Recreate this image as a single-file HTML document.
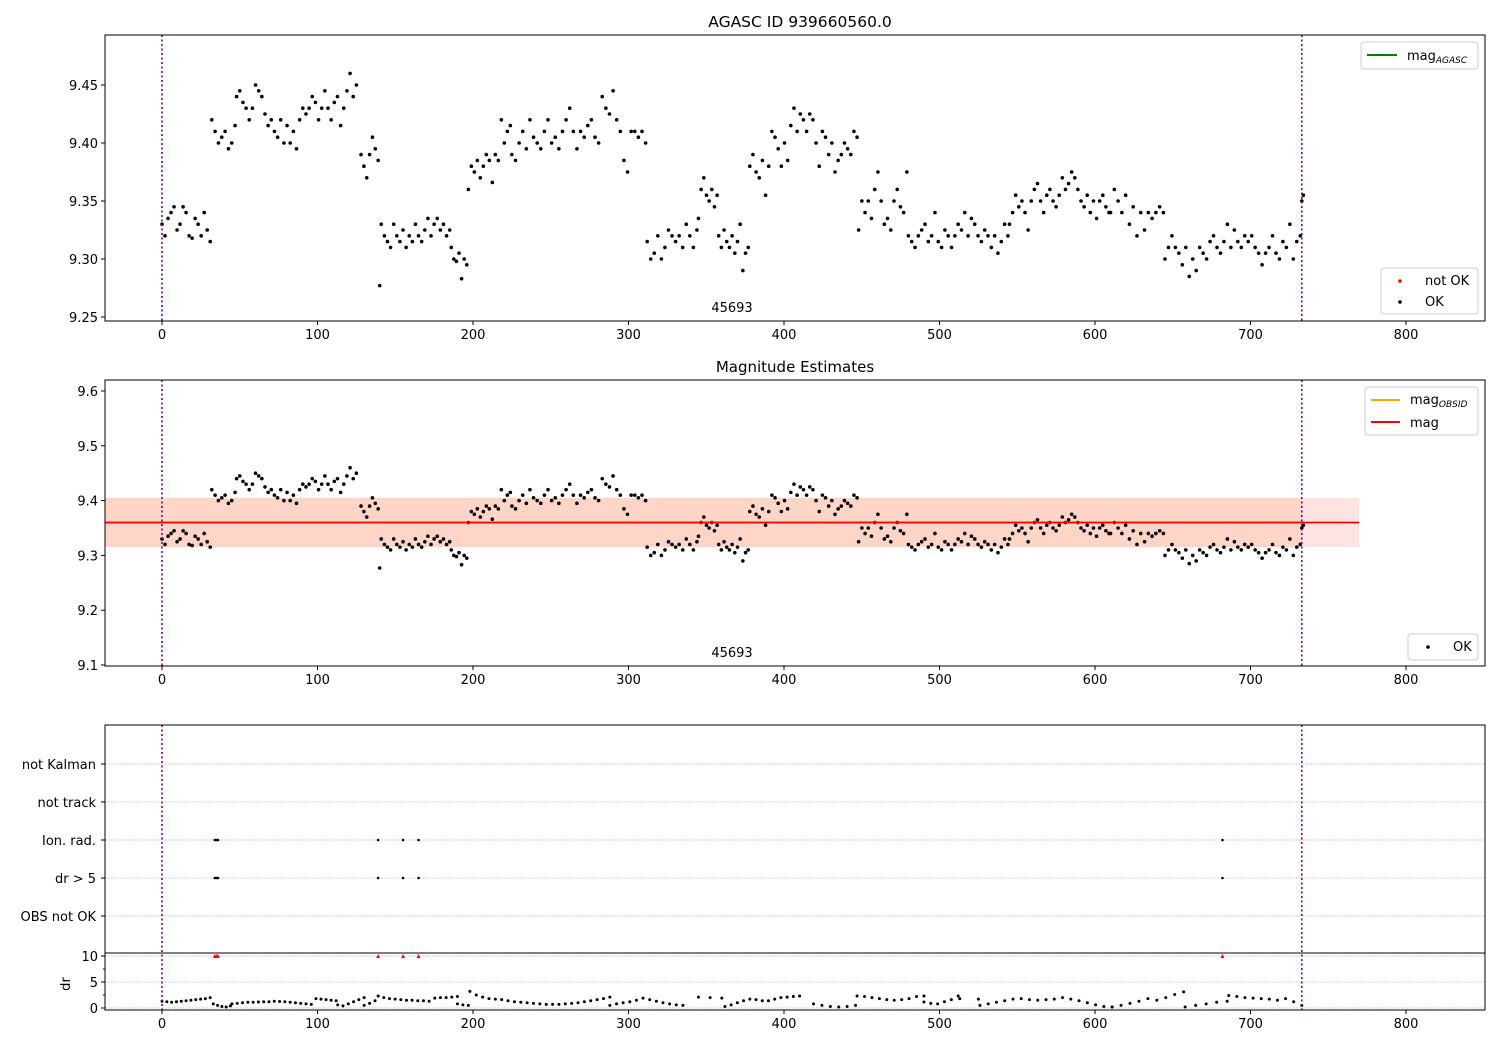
<!DOCTYPE html>
<html><head><meta charset="utf-8"><style>
body{margin:0;background:#fff}
svg{display:block;font-family:"DejaVu Sans","Liberation Sans",sans-serif}
</style></head><body>
<svg id="fig" width="1500" height="1050" viewBox="0 0 1500 1050" xmlns="http://www.w3.org/2000/svg">
<rect width="1500" height="1050" fill="#fff"/>
<g id="g"></g>
</svg>
<script>
// ---- data ----
const xTicks=[0,100,200,300,400,500,600,700,800];
const topYTicks=[9.25,9.30,9.35,9.40,9.45];
const midYTicks=[9.1,9.2,9.3,9.4,9.5,9.6];
const flagCats=["not Kalman","not track","Ion. rad.","dr > 5","OBS not OK"];
const drTicks=[0,5,10];
const flagTimes=[34,35,36,139,155,165,682];
const obsStart=0, obsStop=733;
const magAgasc=9.36, magBandLow=9.315, magBandHigh=9.405, magBandEnd=770;
const magSegStart=[0,32,48,128,140,141,186,197,225,312,345,358,378,448,480,545,610,645,733];
const magSegEnd=[31,47,125,139,140,185,196,224,311,344,357,377,447,479,544,609,644,732,734];
const magSegVals=[
[9.33,9.32,9.335,9.34,9.345,9.325,9.33,9.345,9.34,9.32,9.318,9.335,9.33,9.32,9.34,9.325,9.315],
[9.42,9.41,9.40,9.405,9.41,9.395,9.40,9.415],
[9.44,9.445,9.435,9.43,9.42,9.43,9.45,9.445,9.44,9.425,9.415,9.42,9.41,9.405,9.42,9.40,9.415,9.40,9.41,9.395,9.42,9.43,9.425,9.43,9.44,9.435,9.42,9.43,9.445,9.43,9.42,9.435,9.44,9.415,9.43,9.445,9.46,9.44,9.45],
[9.39,9.38,9.37,9.39,9.405,9.395,9.385],
[9.277],
[9.33,9.32,9.315,9.31,9.33,9.32,9.315,9.325,9.31,9.32,9.315,9.33,9.32,9.315,9.325,9.335,9.32,9.33,9.335,9.325,9.33,9.32,9.325],
[9.31,9.30,9.298,9.305,9.283,9.30,9.295],
[9.36,9.38,9.375,9.385,9.37,9.38,9.39,9.385,9.366,9.39,9.385,9.42,9.40,9.41,9.415],
[9.39,9.385,9.40,9.41,9.395,9.42,9.405,9.40,9.395,9.41,9.42,9.40,9.405,9.395,9.41,9.42,9.43,9.41,9.395,9.41,9.405,9.415,9.42,9.405,9.40,9.44,9.43,9.425,9.445,9.42,9.41,9.385,9.375,9.41,9.41,9.405,9.41,9.40],
[9.315,9.30,9.305,9.32,9.30,9.31,9.325,9.32,9.315,9.32,9.31,9.33,9.32,9.31,9.325],
[9.335,9.36,9.37,9.355,9.35,9.36,9.345,9.355],
[9.32,9.31,9.325,9.315,9.31,9.32,9.305,9.315,9.33,9.29,9.305,9.31],
[9.38,9.39,9.375,9.37,9.385,9.355,9.38,9.41,9.405,9.395,9.38,9.40,9.385,9.415,9.43,9.41,9.425,9.42,9.41,9.425,9.42,9.40,9.38,9.41,9.405,9.39,9.40,9.375,9.385,9.39,9.40,9.395,9.39,9.41,9.405],
[9.325,9.35,9.34,9.35,9.335,9.36,9.375,9.35,9.33,9.335,9.325,9.35,9.36,9.345,9.34,9.375],
[9.32,9.315,9.31,9.32,9.325,9.33,9.315,9.32,9.34,9.315,9.31,9.325,9.32,9.31,9.32,9.33,9.325,9.34,9.32,9.335,9.33,9.32,9.315,9.325,9.32,9.31,9.32,9.305,9.315,9.33,9.32],
[9.33,9.34,9.355,9.345,9.35,9.34,9.325,9.35,9.36,9.365,9.35,9.34,9.355,9.36,9.35,9.345,9.355,9.37,9.36,9.365,9.375,9.37,9.36,9.35,9.345,9.355,9.34,9.35,9.335,9.35,9.355,9.345,9.34],
[9.34,9.36,9.35,9.34,9.355,9.33,9.345,9.32,9.34,9.325,9.34,9.335,9.34,9.345,9.34],
[9.30,9.31,9.32,9.31,9.305,9.295,9.31,9.285,9.30,9.29,9.31,9.305,9.30,9.315,9.32,9.31,9.305,9.315,9.33,9.31,9.325,9.315,9.31,9.32,9.315,9.32,9.31,9.305,9.295,9.305,9.31,9.32,9.305,9.30,9.315,9.31,9.33,9.30,9.315,9.32],
[9.35,9.355]];
const drSegStart=[0,33,45,99,113,130,139,190,198,288,345,362,419,447,490,513,526,611,658,686];
const drSegEnd=[31,44,96,112,130,137,190,197,288,335,360,410,446,490,512,525,611,657,685,733];
const drSegVals=[
[1.3,1.2,1.1,1.2,1.3,1.4,1.5,1.6,1.7,1.8,2.0],
[0.8,0.5,0.3,0.2,0.4],
[0.8,0.9,1.0,1.1,1.1,1.15,1.2,1.2,1.3,1.25,1.2,1.1,1.0,0.9,0.8,0.7],
[1.8,1.7,1.6,1.5,1.4],
[0.6,0.4,0.8,1.2,1.6,2.0],
[0.5,0.9,1.4],
[2.3,2.0,1.8,1.7,1.6,1.5,1.5,1.4,1.4,1.3,1.9,2.0,2.0,2.1,2.2],
[0.8,0.6,0.5],
[3.2,2.5,2.1,1.8,1.7,1.6,1.4,1.2,1.1,1.0,0.9,0.8,0.7,0.7,0.7,0.8,0.9,1.0,1.2,1.4,1.6,1.8,2.1],
[0.5,0.8,1.0,1.2,1.5,1.9,1.6,1.3,1.0,0.8,0.6,0.5],
[2.1,2.0,1.9],
[0.3,0.6,1.0,1.4,1.7,1.6,1.4,1.4,1.7,2.0,2.1,2.2,2.3],
[0.8,0.5,0.3,0.2,0.3,0.5],
[2.3,2.2,2.0,1.8,1.6,1.5,1.6,1.8,2.2,2.3],
[1.15,0.9,0.8,1.2,1.6,2.3],
[1.8,1.7],
[0.5,0.8,1.1,1.4,1.7,1.8,1.6,1.5,1.6,1.7,2.0,1.7,1.4,1.0,0.6,0.3,0.2],
[0.2,0.5,0.9,1.3,1.8,1.5,2.0,2.6,3.1],
[0.2,0.5,0.8,1.1,1.3],
[2.4,2.2,2.0,1.9,1.8,1.7,1.5,1.8,1.2,0.5]];

// ---- scales ----
const L=105,R=1485;
const X=t=>162+t*1.555;
const topY=m=>259-(m-9.30)*1160;
const midY=m=>665-(m-9.1)*548;
const catY=[764,802,840,878,916];
const drY=d=>1008-d*5.2;
const NS="http://www.w3.org/2000/svg";
const G=document.getElementById('g');
function el(tag,attrs,parent){const e=document.createElementNS(NS,tag);for(const k in attrs)e.setAttribute(k,attrs[k]);(parent||G).appendChild(e);return e;}
function txt(s,x,y,size,anchor,parent){const e=el('text',{x:x,y:y,'font-size':size,'text-anchor':anchor||'middle',fill:'#000'},parent);e.textContent=s;return e;}
function expand(starts,ends,vals){const out=[];vals.forEach((arr,i)=>{const n=arr.length;arr.forEach((v,j)=>{out.push([n>1?starts[i]+j*(ends[i]-starts[i])/(n-1):starts[i],v]);});});return out;}
const magPts=expand(magSegStart,magSegEnd,magSegVals);
const drPts=expand(drSegStart,drSegEnd,drSegVals);

function xAxis(yb,name){
  const g=el('g',{});
  
  
  xTicks.forEach(t=>{el('line',{x1:X(t),x2:X(t),y1:yb,y2:yb+4,stroke:'#000','stroke-width':1},g);txt(String(t),X(t),yb+18,13,'middle',g);});
}
function frame(y0,y1,name){
  const r=el('rect',{x:L,y:y0,width:R-L,height:y1-y0,fill:'none',stroke:'#000','stroke-width':1});
  
  
}
function vlines(y0,y1){[obsStart,obsStop].forEach(t=>{const l=el('line',{x1:X(t),x2:X(t),y1:y0,y2:y1,stroke:'#800080','stroke-width':1.6,'stroke-dasharray':'2,2.5'});
  
  });}

// ===== top panel =====
txt('AGASC ID 939660560.0',800,27,15.5);
const tg=el('g',{});


magPts.forEach(p=>el('circle',{cx:X(p[0]),cy:topY(p[1]),r:1.8,fill:'#000'},tg));
vlines(35,321);
frame(35,321,'top-axes');
topYTicks.forEach(v=>{el('line',{x1:L-4,x2:L,y1:topY(v),y2:topY(v),stroke:'#000'});txt(v.toFixed(2),L-7,topY(v)+5,13,'end');});
xAxis(321,'top-x-axis');
txt('45693',732,312,13);
let lg=el('g',{});


el('rect',{x:1361,y:42,width:117,height:27,rx:3,fill:'#fff',stroke:'#ccc'},lg);
el('line',{x1:1367,x2:1397,y1:55,y2:55,stroke:'green','stroke-width':2},lg);
let t1=txt('mag',1407,60,13,'start',lg);const s1=el('tspan',{'font-size':9,dy:3},t1);s1.textContent='AGASC';s1.setAttribute('font-style','italic');
lg=el('g',{});


el('rect',{x:1381,y:268,width:97,height:46,rx:3,fill:'#fff',stroke:'#ccc'},lg);
el('circle',{cx:1400,cy:281,r:1.8,fill:'red'},lg);txt('not OK',1425,285,13,'start',lg);
el('circle',{cx:1400,cy:302,r:1.8,fill:'#000'},lg);txt('OK',1425,306,13,'start',lg);

// ===== middle panel =====
txt('Magnitude Estimates',795,372,15);
const band1=el('rect',{x:L,y:midY(magBandHigh),width:X(magBandEnd)-L,height:midY(magBandLow)-midY(magBandHigh),fill:'red','fill-opacity':0.11});


const band2=el('rect',{x:L,y:midY(magBandHigh),width:X(obsStop)-L,height:midY(magBandLow)-midY(magBandHigh),fill:'#ff8c40','fill-opacity':0.16});


const mg=el('g',{});


magPts.forEach(p=>el('circle',{cx:X(p[0]),cy:midY(p[1]),r:1.8,fill:'#000'},mg));
const ol=el('line',{x1:L,x2:X(obsStop),y1:midY(magAgasc),y2:midY(magAgasc),stroke:'orange','stroke-width':2});


const rl=el('line',{x1:L,x2:X(magBandEnd),y1:midY(magAgasc),y2:midY(magAgasc),stroke:'red','stroke-width':1.8});


vlines(380,666);
frame(380,666,'middle-axes');
midYTicks.forEach(v=>{el('line',{x1:L-4,x2:L,y1:midY(v),y2:midY(v),stroke:'#000'});txt(v.toFixed(1),L-7,midY(v)+5,13,'end');});
xAxis(666,'middle-x-axis');
txt('45693',732,657,13);
lg=el('g',{});


el('rect',{x:1365,y:387,width:113,height:48,rx:3,fill:'#fff',stroke:'#ccc'},lg);
el('line',{x1:1371,x2:1400,y1:400,y2:400,stroke:'orange','stroke-width':2},lg);
t1=txt('mag',1410,404,13,'start',lg);const s2=el('tspan',{'font-size':9,dy:3,'font-style':'italic'},t1);s2.textContent='OBSID';
el('line',{x1:1371,x2:1400,y1:422,y2:422,stroke:'red','stroke-width':2},lg);
txt('mag',1410,427,13,'start',lg);
lg=el('g',{});


el('rect',{x:1408,y:634,width:70,height:26,rx:3,fill:'#fff',stroke:'#ccc'},lg);
el('circle',{cx:1428,cy:647,r:1.8,fill:'#000'},lg);txt('OK',1453,651,13,'start',lg);

// ===== bottom panel =====
catY.forEach((y,i)=>{el('line',{x1:L,x2:R,y1:y,y2:y,stroke:'#aaa','stroke-width':0.8,'stroke-dasharray':'1.5,1.5'});
  el('line',{x1:L-4,x2:L,y1:y,y2:y,stroke:'#000'});
  const c=txt(flagCats[i],L-9,y+5,13,'end');
  });
drTicks.forEach(v=>{el('line',{x1:L,x2:R,y1:drY(v),y2:drY(v),stroke:'#aaa','stroke-width':0.8,'stroke-dasharray':'1.5,1.5'});
  el('line',{x1:L-4,x2:L,y1:drY(v),y2:drY(v),stroke:'#000'});txt(String(v),L-7,drY(v)+5,13,'end');});
el('line',{x1:L-2,x2:L,y1:drY(7.5),y2:drY(7.5),stroke:'#000'});
el('line',{x1:L-2,x2:L,y1:drY(2.5),y2:drY(2.5),stroke:'#000'});
const dl=txt('dr',70,984,13);dl.setAttribute('transform','rotate(-90 70 984)');
const fg=el('g',{});


flagTimes.forEach(t=>{
  el('circle',{cx:X(t),cy:catY[2],r:1.3,fill:'#000'},fg);
  el('circle',{cx:X(t),cy:catY[3],r:1.3,fill:'#000'},fg);
  const x=X(t),y=drY(10);
  el('path',{d:`M${x-2},${y+2} L${x+2},${y+2} L${x},${y-2} Z`,fill:'red'},fg);
});
const dg=el('g',{});


drPts.forEach(p=>el('circle',{cx:X(p[0]),cy:drY(p[1]),r:1.5,fill:'#000'},dg));
vlines(725,1010);
frame(725,1010,'bottom-axes');
el('line',{x1:L,x2:R,y1:953,y2:953,stroke:'#000','stroke-width':1});
xAxis(1010,'bottom-x-axis');
</script>
</body></html>
